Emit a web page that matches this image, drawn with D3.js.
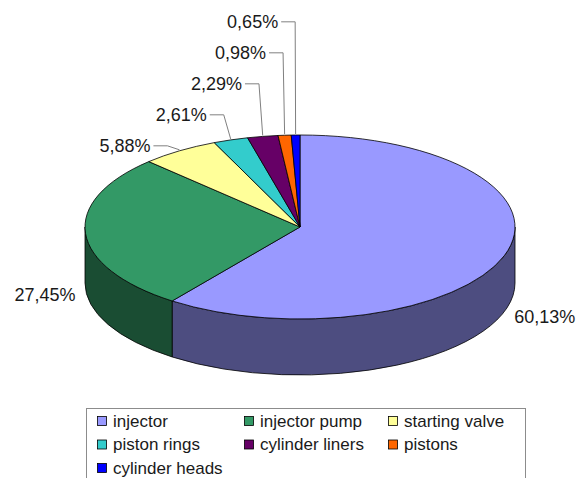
<!DOCTYPE html>
<html>
<head>
<meta charset="utf-8">
<style>
  body { margin: 0; background: #fff; }
  svg { display: block; font-family: "Liberation Sans", Arial, sans-serif; }
</style>
</head>
<body>
<svg width="578" height="478"></svg>
<script src="https://cdn.jsdelivr.net/npm/d3@7"></script>
<script>
// chart data
var parts = ["injector", "injector pump", "starting valve", "piston rings",
             "cylinder liners", "pistons", "cylinder heads"];
var shares = [60.13, 27.45, 5.88, 2.61, 2.29, 0.98, 0.65];
var topColors = ["#9999ff", "#339966", "#ffff99", "#33cccc", "#660066", "#ff6600", "#0000ff"];

var svg = d3.select("svg"),
    cx = 300, cy = 227, rx = 215, ry = 92, depth = 56;

var color = d3.scaleOrdinal().domain(parts).range(topColors);
// side walls are the top colour at half brightness
var sideColor = function (name) {
  var c = d3.rgb(color(name));
  return d3.rgb(c.r * 0.5, c.g * 0.5, c.b * 0.5).toString();
};

var pie = d3.pie().sort(null).value(function (d) { return d.value; });
var arcs = pie(parts.map(function (p, i) { return { name: p, value: shares[i] }; }));

function pt(a, dy) {
  return [cx + rx * Math.sin(a), cy - ry * Math.cos(a) + (dy || 0)];
}

function topPath(d) {
  var p0 = pt(d.startAngle), p1 = pt(d.endAngle);
  var large = (d.endAngle - d.startAngle) > Math.PI ? 1 : 0;
  return "M" + cx + "," + cy + "L" + p0 + "A" + rx + "," + ry + " 0 " + large + " 1 " + p1 + "Z";
}

function sidePath(d) {
  var s = Math.max(d.startAngle, Math.PI / 2), e = Math.min(d.endAngle, 3 * Math.PI / 2);
  if (s >= e) return null;
  var t0 = pt(s), t1 = pt(e), b0 = pt(s, depth), b1 = pt(e, depth);
  return "M" + t0 + "A" + rx + "," + ry + " 0 0 1 " + t1 +
         "L" + b1 + "A" + rx + "," + ry + " 0 0 0 " + b0 + "Z";
}

var g = svg.append("g");

g.selectAll("path.side")
  .data(arcs.filter(function (d) { return sidePath(d); }))
  .enter().append("path")
    .attr("class", "side")
    .attr("d", sidePath)
    .attr("fill", function (d) { return sideColor(d.data.name); })
    .attr("stroke", "#000")
    .attr("stroke-width", 0.8);

g.selectAll("path.top")
  .data(arcs)
  .enter().append("path")
    .attr("class", "top")
    .attr("d", topPath)
    .attr("fill", function (d) { return color(d.data.name); })
    .attr("stroke", "#000")
    .attr("stroke-width", 0.8)
    .attr("stroke-linejoin", "round");

var fmt = function (v) { return v.toFixed(2).replace(".", ",") + "%"; };

// big slices: label beside the rim
var big = arcs.filter(function (d) { return d.data.value > 10; });
big.forEach(function (d) {
  var m = (d.startAngle + d.endAngle) / 2, p = pt(m, depth), right = Math.sin(m) > 0;
  svg.append("text")
    .attr("x", p[0] + (right ? 10 : -10))
    .attr("y", p[1] + 5)
    .attr("dy", "0.35em")
    .attr("text-anchor", right ? "start" : "end")
    .attr("font-size", 18)
    .attr("fill", "#1a1a1a")
    .text(fmt(d.data.value));
});

// small slices: stacked labels with elbow leaders
var small = arcs.filter(function (d) { return d.data.value <= 10; });
var baseY = null;
small.forEach(function (d, i) {
  var m = (d.startAngle + d.endAngle) / 2, p = pt(m);
  if (baseY === null) baseY = p[1] - 5;
  var ly = baseY - 31 * i;
  var ex = p[0] - 0.1 * (cx - p[0]);
  svg.append("path")
    .attr("d", "M" + (ex - 14) + "," + ly + "L" + ex + "," + ly + "L" + p[0] + "," + (p[1] - 1))
    .attr("fill", "none")
    .attr("stroke", "#808080")
    .attr("stroke-width", 1);
  svg.append("text")
    .attr("x", ex - 17)
    .attr("y", ly)
    .attr("dy", "0.35em")
    .attr("text-anchor", "end")
    .attr("font-size", 18)
    .attr("fill", "#1a1a1a")
    .text(fmt(d.data.value));
});

// legend
var leg = svg.append("g");
leg.append("rect")
  .attr("x", 86.5).attr("y", 408.5)
  .attr("width", 439).attr("height", 90)
  .attr("fill", "#fff")
  .attr("stroke", "#8c8c8c")
  .attr("stroke-width", 1);

var colX = [97, 244, 388], rowY = [421, 444.5, 468];
var item = leg.selectAll("g.item")
  .data(parts)
  .enter().append("g")
    .attr("class", "item")
    .attr("transform", function (d, i) {
      return "translate(" + colX[i % 3] + "," + rowY[Math.floor(i / 3)] + ")";
    });
item.append("rect")
  .attr("x", 0.5).attr("y", -4.5)
  .attr("width", 9).attr("height", 9)
  .attr("fill", function (d) { return color(d); })
  .attr("stroke", "#000")
  .attr("stroke-width", 0.8);
item.append("text")
  .attr("x", 16)
  .attr("dy", "0.35em")
  .attr("font-size", 17)
  .attr("fill", "#1a1a1a")
  .text(function (d) { return d; });
</script>
</body>
</html>
